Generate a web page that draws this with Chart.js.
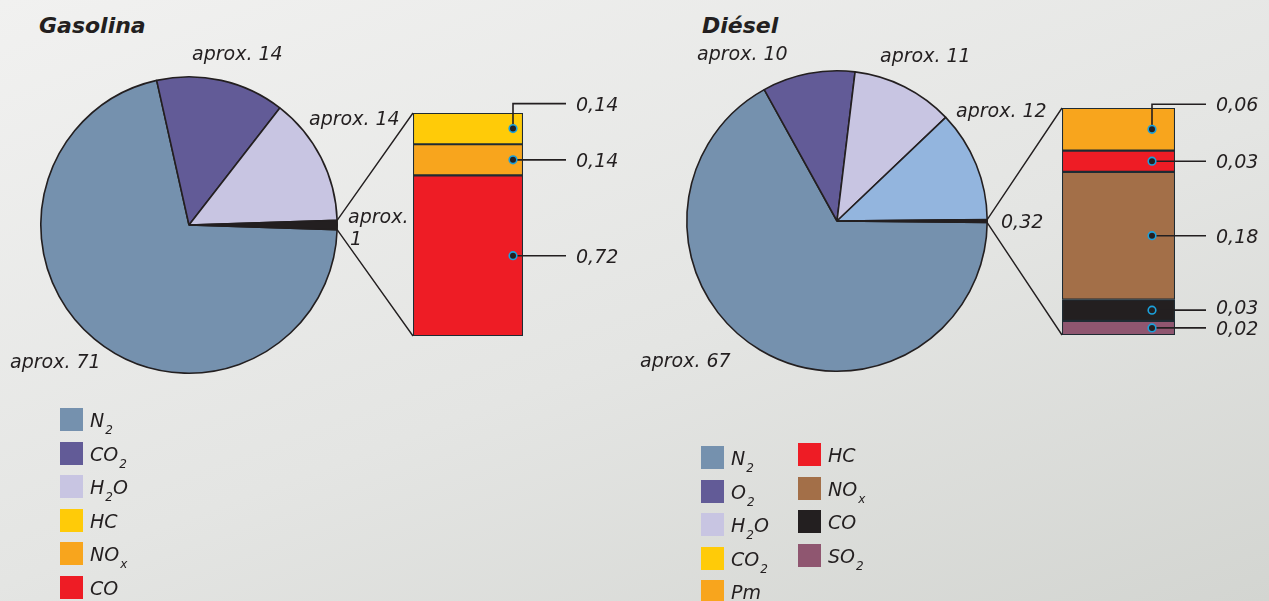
<!DOCTYPE html>
<html lang="es">
<head>
    <meta charset="UTF-8">
    <meta name="viewport" content="width=device-width, initial-scale=1.0">
    <title>Gases de escape: Gasolina y Diésel</title>
    <style>
        body {
            margin: 0;
            width: 1269px;
            height: 601px;
            overflow: hidden;
            position: relative;
            font-family: 'DejaVu Sans', sans-serif;
            color: #231f20;
            background: linear-gradient(160deg, #f1f1f0 0%, #e4e5e3 55%, #d3d5d1 100%);
        }
        canvas {
            position: absolute;
            left: 0;
            top: 0;
        }
        .title {
            position: absolute;
            top: 14px;
            font-size: 22px;
            line-height: 23px;
            font-weight: bold;
            font-style: italic;
        }
        .legend-item {
            position: absolute;
            height: 23px;
            font-size: 19px;
            line-height: 23px;
            font-style: italic;
            white-space: nowrap;
        }
        .legend-item .box {
            position: absolute;
            left: 0;
            top: 0;
            width: 23px;
            height: 23px;
        }
        .legend-item .text {
            position: absolute;
            left: 30px;
            top: 1px;
        }
        sub {
            font-size: 12px;
            vertical-align: -7px;
            line-height: 0;
            margin-left: 1px;
        }
    </style>
</head>
<body>
    <div class="title" style="left: 39px;">Gasolina</div>
    <div class="title" style="left: 702px;">Diésel</div>

    <canvas id="gasPie" width="1269" height="601"></canvas>
    <canvas id="gasBar" width="1269" height="601"></canvas>
    <canvas id="dieselPie" width="1269" height="601"></canvas>
    <canvas id="dieselBar" width="1269" height="601"></canvas>

    <script src="https://cdn.jsdelivr.net/npm/chart.js"></script>
    <script>
        // Gasolina: composición de los gases de escape (%)
        const gasPieNames = ['N2', 'CO2', 'H2O', 'HC + NOx + CO'];
        const gasPieValues = [71, 14, 14, 1];
        const gasPieColors = ['#7591ae', '#625b97', '#c8c5e2', '#231f20'];
        const gasBarNames = ['HC', 'NOx', 'CO'];
        const gasBarValues = [0.14, 0.14, 0.72];
        const gasBarColors = ['#ffcb08', '#f8a51d', '#ee1c25'];
        const gasLegendNames = ['N2', 'CO2', 'H2O', 'HC', 'NOx', 'CO'];
        const gasLegendColors = ['#7591ae', '#625b97', '#c8c5e2', '#ffcb08', '#f8a51d', '#ee1c25'];

        // Diésel
        const dieselPieNames = ['N2', 'O2', 'H2O', 'CO2', 'Pm + HC + NOx + CO + SO2'];
        const dieselPieValues = [67, 10, 11, 12, 0.32];
        const dieselPieColors = ['#7591ae', '#625b97', '#c8c5e2', '#93b5de', '#231f20'];
        const dieselBarNames = ['Pm', 'HC', 'NOx', 'CO', 'SO2'];
        const dieselBarValues = [0.06, 0.03, 0.18, 0.03, 0.02];
        const dieselBarColors = ['#f8a51d', '#ee1c25', '#a36f48', '#231f20', '#8f5670'];
        const dieselLegendNames = ['N2', 'O2', 'H2O', 'CO2', 'Pm', 'HC', 'NOx', 'CO', 'SO2'];
        const dieselLegendColors = ['#7591ae', '#625b97', '#c8c5e2', '#ffcb08', '#f8a51d', '#ee1c25', '#a36f48', '#231f20', '#8f5670'];

        const ink = '#231f20';
        const dotRing = '#1ba1dc';
        const labelFont = 'italic 19px "DejaVu Sans"';

        const gasLayout = {
            piePadding: { left: 40, top: 76, right: 931, bottom: 227 },
            rotation: 91.8,
            pieLabels: [
                { x: 10, y: 368, prefix: true },
                { x: 192, y: 60, prefix: true },
                { x: 309, y: 125, prefix: true },
                { x: 348, y: 223, prefix: true, wrap: true }
            ],
            barPadding: { left: 413, top: 113, right: 746, bottom: 265 },
            dotInset: 10,
            leaderLen: 43,
            labelShift: [0, 0, 0],
            legendColumns: [{ x: 60, y: 408, count: 6 }]
        };

        const dieselLayout = {
            piePadding: { left: 686, top: 70, right: 281, bottom: 229 },
            rotation: 90.6,
            pieLabels: [
                { x: 640, y: 367, prefix: true },
                { x: 697, y: 60, prefix: true },
                { x: 880, y: 62, prefix: true },
                { x: 956, y: 117, prefix: true },
                { x: 1001, y: 228, prefix: false }
            ],
            barPadding: { left: 1062, top: 108, right: 94, bottom: 266 },
            dotInset: 23,
            leaderLen: 31,
            labelShift: [0, 0, 0, -3, 0],
            legendColumns: [{ x: 701, y: 446, count: 5 }, { x: 798, y: 443, count: 4 }]
        };

        const legendStep = 33.6;

        function formatNumber(v) {
            return String(v).replace('.', ',');
        }

        function withSubscripts(name) {
            return name.replace(/([A-Z])(\d|x)/g, '$1<sub>$2</sub>');
        }

        function makePieLabels(layout) {
            return {
                id: 'pieLabels',
                afterDraw(chart) {
                    const ctx = chart.ctx;
                    const values = chart.data.datasets[0].data;
                    ctx.save();
                    ctx.font = labelFont;
                    ctx.fillStyle = ink;
                    ctx.textBaseline = 'alphabetic';
                    layout.pieLabels.forEach((item, i) => {
                        const num = formatNumber(values[i]);
                        let lines = [num];
                        if (item.prefix) {
                            lines = item.wrap ? ['aprox.', num] : ['aprox. ' + num];
                        }
                        lines.forEach((line, k) => ctx.fillText(line, item.x + k * 2, item.y + k * 22));
                    });
                    ctx.restore();
                }
            };
        }

        function makeBarNotes(pieChart, layout) {
            return {
                id: 'barNotes',
                afterDatasetsDraw(chart) {
                    const ctx = chart.ctx;
                    const area = chart.chartArea;
                    const pieData = pieChart.getDatasetMeta(0).data;
                    const arc = pieData[pieData.length - 1];

                    ctx.save();
                    ctx.strokeStyle = ink;
                    ctx.lineWidth = 1.4;

                    // lines from the small slice out to the bar
                    ctx.beginPath();
                    ctx.moveTo(arc.x + arc.outerRadius * Math.cos(arc.startAngle), arc.y + arc.outerRadius * Math.sin(arc.startAngle));
                    ctx.lineTo(area.left, area.top);
                    ctx.moveTo(arc.x + arc.outerRadius * Math.cos(arc.endAngle), arc.y + arc.outerRadius * Math.sin(arc.endAngle));
                    ctx.lineTo(area.left, area.bottom);
                    ctx.stroke();

                    // leader line, dot and value for every segment, top to bottom
                    const n = chart.data.datasets.length;
                    ctx.font = labelFont;
                    ctx.textBaseline = 'alphabetic';
                    for (let d = n - 1, row = 0; d >= 0; d--, row++) {
                        const el = chart.getDatasetMeta(d).data[0];
                        const value = chart.data.datasets[d].data[0];
                        const cx = area.right - layout.dotInset;
                        const cy = (el.y + el.base) / 2;
                        const isTop = row === 0;
                        const ly = isTop ? cy - 25 : cy;
                        const endX = area.right + layout.leaderLen;

                        ctx.strokeStyle = ink;
                        ctx.lineWidth = 1.6;
                        ctx.beginPath();
                        ctx.moveTo(cx, cy);
                        if (isTop) ctx.lineTo(cx, ly);
                        ctx.lineTo(endX, ly);
                        ctx.stroke();

                        ctx.beginPath();
                        ctx.arc(cx, cy, 3.8, 0, Math.PI * 2);
                        ctx.fillStyle = ink;
                        ctx.fill();
                        ctx.strokeStyle = dotRing;
                        ctx.lineWidth = 1.6;
                        ctx.stroke();

                        ctx.fillStyle = ink;
                        ctx.fillText(value.toFixed(2).replace('.', ','), endX + 10, ly + 7 + layout.labelShift[row]);
                    }
                    ctx.restore();
                }
            };
        }

        function drawPie(id, names, values, colors, layout) {
            return new Chart(document.getElementById(id), {
                type: 'pie',
                data: {
                    labels: names,
                    datasets: [{
                        data: values,
                        backgroundColor: colors,
                        borderColor: ink,
                        borderWidth: 1.6,
                        hoverOffset: 0
                    }]
                },
                options: {
                    responsive: false,
                    animation: false,
                    events: [],
                    rotation: layout.rotation,
                    layout: { padding: layout.piePadding },
                    plugins: {
                        legend: { display: false },
                        tooltip: { enabled: false }
                    }
                },
                plugins: [makePieLabels(layout)]
            });
        }

        function drawBar(id, names, values, colors, layout, pieChart) {
            // stacked from the bottom, so the list is walked in reverse
            const datasets = names.map((name, i) => ({
                label: name,
                data: [values[i]],
                backgroundColor: colors[i],
                borderColor: '#1f2b33',
                borderWidth: 1.4,
                borderSkipped: false,
                barPercentage: 1,
                categoryPercentage: 1
            })).reverse();
            const total = values.reduce((a, b) => a + b, 0);

            return new Chart(document.getElementById(id), {
                type: 'bar',
                data: { labels: [''], datasets: datasets },
                options: {
                    responsive: false,
                    animation: false,
                    events: [],
                    layout: { padding: layout.barPadding },
                    plugins: {
                        legend: { display: false },
                        tooltip: { enabled: false }
                    },
                    scales: {
                        x: { stacked: true, display: false },
                        y: { stacked: true, display: false, min: 0, max: total }
                    }
                },
                plugins: [makeBarNotes(pieChart, layout)]
            });
        }

        function buildLegend(names, colors, layout) {
            let idx = 0;
            layout.legendColumns.forEach(col => {
                for (let r = 0; r < col.count; r++, idx++) {
                    const item = document.createElement('div');
                    item.className = 'legend-item';
                    item.style.left = col.x + 'px';
                    item.style.top = Math.round(col.y + r * legendStep) + 'px';
                    item.innerHTML = '<span class="box" style="background:' + colors[idx] + '"></span>' +
                        '<span class="text">' + withSubscripts(names[idx]) + '</span>';
                    document.body.appendChild(item);
                }
            });
        }

        const gasPie = drawPie('gasPie', gasPieNames, gasPieValues, gasPieColors, gasLayout);
        drawBar('gasBar', gasBarNames, gasBarValues, gasBarColors, gasLayout, gasPie);
        const dieselPie = drawPie('dieselPie', dieselPieNames, dieselPieValues, dieselPieColors, dieselLayout);
        drawBar('dieselBar', dieselBarNames, dieselBarValues, dieselBarColors, dieselLayout, dieselPie);

        buildLegend(gasLegendNames, gasLegendColors, gasLayout);
        buildLegend(dieselLegendNames, dieselLegendColors, dieselLayout);
    </script>
</body>
</html>
